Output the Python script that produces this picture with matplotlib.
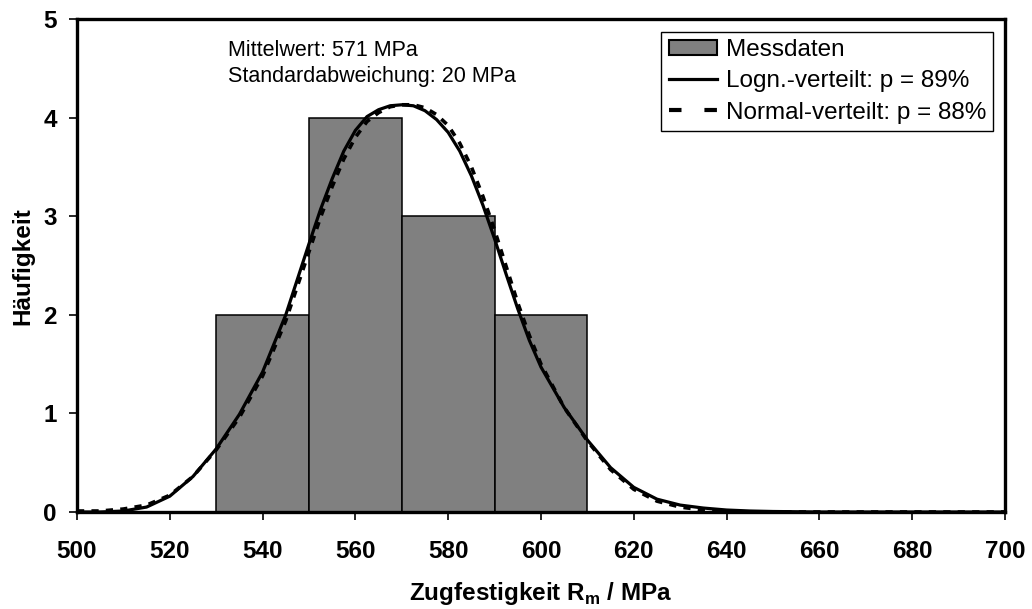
import matplotlib
matplotlib.use("Agg")
import matplotlib.pyplot as plt
import numpy as np
from matplotlib.patches import Patch
from matplotlib.lines import Line2D

# histogram of the measurements
bin_edges = [530, 550, 570, 590, 610]
counts = [2, 4, 3, 2]

# fitted density curves
strength = [500, 505, 510, 515, 520, 525, 530, 535, 540, 545, 547.5, 550,
            552.5, 555, 557.5, 560, 562.5, 565, 567.5, 570, 572.5, 575, 577.5,
            580, 582.5, 585, 587.5, 590, 592.5, 595, 597.5, 600, 605, 610,
            615, 620, 625, 630, 635, 640, 645, 650, 660, 670, 680, 690, 700]
logn_fit = [0.00, 0.00, 0.01, 0.05, 0.16, 0.36, 0.64, 0.99, 1.42, 2.00, 2.36,
            2.72, 3.07, 3.38, 3.66, 3.87, 4.01, 4.08, 4.12, 4.13, 4.12, 4.07,
            3.98, 3.85, 3.66, 3.41, 3.11, 2.77, 2.41, 2.06, 1.74, 1.47, 1.06,
            0.73, 0.45, 0.25, 0.13, 0.07, 0.04, 0.02, 0.01, 0.005, 0.0, 0.0,
            0.0, 0.0, 0.0]
normal_fit = [0.01, 0.01, 0.03, 0.07, 0.17, 0.36, 0.63, 0.96, 1.38, 1.94, 2.29,
              2.64, 2.99, 3.30, 3.58, 3.80, 3.96, 4.05, 4.11, 4.13, 4.13, 4.10,
              4.03, 3.92, 3.74, 3.50, 3.20, 2.86, 2.49, 2.12, 1.79, 1.50, 1.06,
              0.72, 0.43, 0.23, 0.11, 0.05, 0.02, 0.01, 0.0, 0.0, 0.0, 0.0,
              0.0, 0.0, 0.0]

x_ticks = [500, 520, 540, 560, 580, 600, 620, 640, 660, 680, 700]
y_ticks = [0, 1, 2, 3, 4, 5]

plt.rcParams.update({
    "font.family": "Liberation Sans",
    "mathtext.fontset": "custom",
    "mathtext.bf": "Liberation Sans:bold",
    "mathtext.rm": "Liberation Sans",
})

fig = plt.figure(figsize=(10.32, 6.09), dpi=100, facecolor="white")
ax = fig.add_axes([0.0746, 0.1593, 0.8992, 0.8095])

edges = np.array(bin_edges)
ax.bar(edges[:-1], counts, width=np.diff(edges), align="edge",
       color="#808080", edgecolor="black", linewidth=1.1, zorder=2)
ax.plot(strength, logn_fit, color="black", linewidth=2.3, zorder=4,
        solid_capstyle="butt", solid_joinstyle="round")
ax.plot(strength, normal_fit, color="black", linewidth=2.6, zorder=3,
        linestyle=(0, (2.0, 2.0)), dash_capstyle="butt")

ax.set_xlim(500, 700)
ax.set_ylim(0, 5)
ax.set_xticks(x_ticks)
ax.set_yticks(y_ticks)
ax.tick_params(axis="both", direction="out", length=5.5, width=1.2,
               labelsize=17.5)
ax.tick_params(axis="x", pad=15)
ax.tick_params(axis="y", pad=9)
for lab in ax.get_xticklabels() + ax.get_yticklabels():
    lab.set_fontweight("bold")
for spine in ax.spines.values():
    spine.set_linewidth(2.4)
    spine.set_color("black")

fig.text(0.5244, 0.0148, r"Zugfestigkeit R$_\mathbf{m}$ / MPa",
         ha="center", va="baseline", fontsize=17.5, fontweight="bold")
fig.text(0.022, 0.563, "Häufigkeit", rotation=90, ha="center", va="center",
         fontsize=17.5, fontweight="bold")

ax.text(0.163, 0.958, "Mittelwert: 571 MPa\nStandardabweichung: 20 MPa",
        transform=ax.transAxes, ha="left", va="top", fontsize=15.5,
        linespacing=1.35)

handles = [
    Patch(facecolor="#808080", edgecolor="black", linewidth=1.5),
    Line2D([], [], color="black", linewidth=2.3),
    Line2D([], [], color="black", linewidth=3.0, linestyle=(0, (3.0, 5.5))),
]
labels = ["Messdaten", "Logn.-verteilt: p = 89%", "Normal-verteilt: p = 88%"]
leg = ax.legend(handles, labels, loc="upper right",
                bbox_to_anchor=(0.9875, 0.974), fontsize=17.5, frameon=True,
                fancybox=False, framealpha=1, edgecolor="black",
                borderpad=0.3, labelspacing=0.38, handlelength=2.0,
                handleheight=0.6, handletextpad=0.35, borderaxespad=0)
leg.get_frame().set_linewidth(1.0)

fig.savefig("out.png", dpi=100, facecolor="white")
